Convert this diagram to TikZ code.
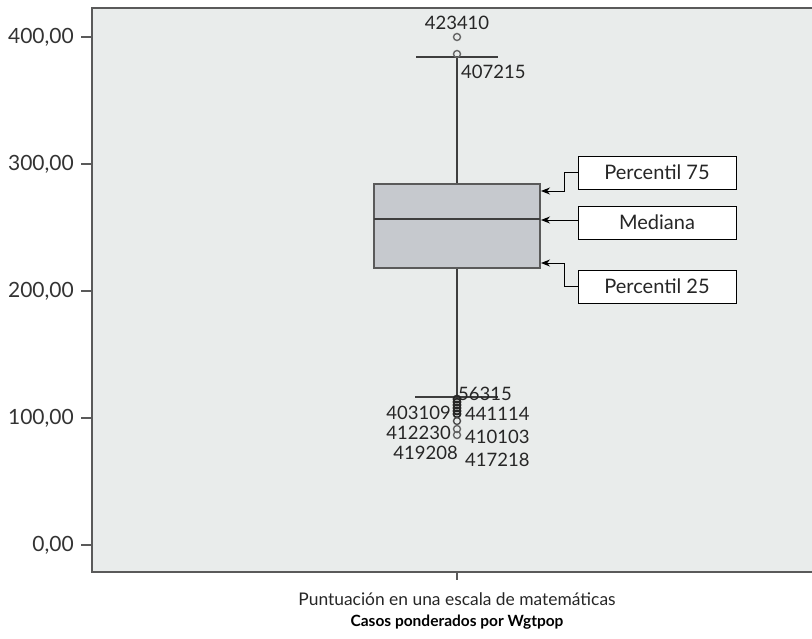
\documentclass[tikz,border=0pt]{standalone}
\usepackage{fontspec}
\setmainfont{Lato}
\usetikzlibrary{arrows.meta}
\definecolor{plotbg}{HTML}{E9ECEB}
\definecolor{boxfill}{HTML}{C6C9CE}
\definecolor{axisgray}{HTML}{5A5A5A}
\definecolor{linegray}{HTML}{3E3E3E}
\tikzset{
    callout/.style={draw=black,fill=white,line width=1pt,minimum width=158pt,minimum height=33pt,inner sep=0pt,font=\fontsize{20}{20}\selectfont,text=black!85},
    caseno/.style={inner sep=0pt,font=\fontsize{18.5}{18.5}\selectfont,text=black!85},
    ticklab/.style={inner sep=0pt,anchor=east,font=\fontsize{21}{21}\selectfont,text=black!80},
    outlier/.style={draw=gray!80!black,line width=1.4pt}
}
\begin{document}
\begin{tikzpicture}[x=1pt,y=-1pt]
    \useasboundingbox (0,0) rectangle (812,638);
    % plot area
    \fill[plotbg] (92,8) rectangle (812,572);
    \draw[axisgray,line width=1.3pt] (812,8) -- (92,8) -- (92,572) -- (812,572);
    % y axis ticks: 400 -> 37, 0 -> 545
    \foreach \v/\lab in {0/{0,00},100/{100,00},200/{200,00},300/{300,00},400/{400,00}} {
        \draw[axisgray,line width=1.3pt] (81,545-1.27*\v) -- (92,545-1.27*\v);
        \node[ticklab] at (74,545-1.27*\v) {\lab};
    }
    % x axis tick
    \draw[axisgray,line width=1.3pt] (457,572) -- (457,580);
    \node[inner sep=0pt,font=\fontsize{17.4}{17.4}\selectfont,text=black!85] (xlab) at (457,599) {Puntuación en una escala de matemáticas};
    \node[inner sep=0pt,font=\fontsize{15.5}{15.5}\selectfont\bfseries] (xtitle) at (457,622) {Casos ponderados por Wgtpop};
    % whiskers
    \draw[linegray,line width=1.6pt] (457,57) -- (457,184);
    \draw[linegray,line width=1.6pt] (457,268) -- (457,397);
    \draw[linegray,line width=2pt] (416,57) -- (498,57);
    \draw[linegray,line width=2pt] (415,397) -- (498,397);
    % box
    \draw[fill=boxfill,draw=axisgray,line width=1.3pt] (374,184) rectangle (540,268);
    \draw[linegray,line width=2.2pt] (374,219) -- (540,219);
    \coordinate (q3) at (541,191);
    \coordinate (med) at (541,220);
    \coordinate (q1) at (541,263);
    % upper outliers
    \draw[outlier] (457,37) circle (3.5);
    \draw[outlier] (457,54) circle (3.5);
    \node[caseno,anchor=south] (o1) at (457,30) {423410};
    \node[caseno,anchor=west] (o2) at (461,72) {407215};
    % lower outliers
    \foreach \yy in {399,402,405,408,411,414} {
        \draw[black!85,line width=1.8pt] (457,\yy) circle (3.5);
    }
    \draw[outlier,black!70] (457,421) circle (3.5);
    \draw[outlier] (457,429) circle (3.5);
    \draw[outlier] (457,435) circle (3.5);
    \node[caseno,anchor=west] (o3) at (458,394) {56315};
    \node[caseno,anchor=east] (o4) at (451,413) {403109};
    \node[caseno,anchor=west] (o5) at (465,414) {441114};
    \node[caseno,anchor=east] (o6) at (451,433) {412230};
    \node[caseno,anchor=west] (o7) at (465,437) {410103};
    \node[caseno,anchor=east] (o8) at (458,453) {419208};
    \node[caseno,anchor=west] (o9) at (465,460) {417218};
    % callouts
    \node[callout] (p75) at (657,172.5) {Percentil 75};
    \node[callout] (mediana) at (657,222.5) {Mediana};
    \node[callout] (p25) at (657,286.5) {Percentil 25};
    \draw[-{Stealth[length=9pt,width=7pt]},line width=1pt] (p75.west) -- ++(-13,0) |- (q3);
    \draw[-{Stealth[length=9pt,width=7pt]},line width=1pt] (mediana.west |- med) -- (med);
    \draw[-{Stealth[length=9pt,width=7pt]},line width=1pt] (p25.west) -- ++(-13,0) |- (q1);
\end{tikzpicture}
\end{document}
